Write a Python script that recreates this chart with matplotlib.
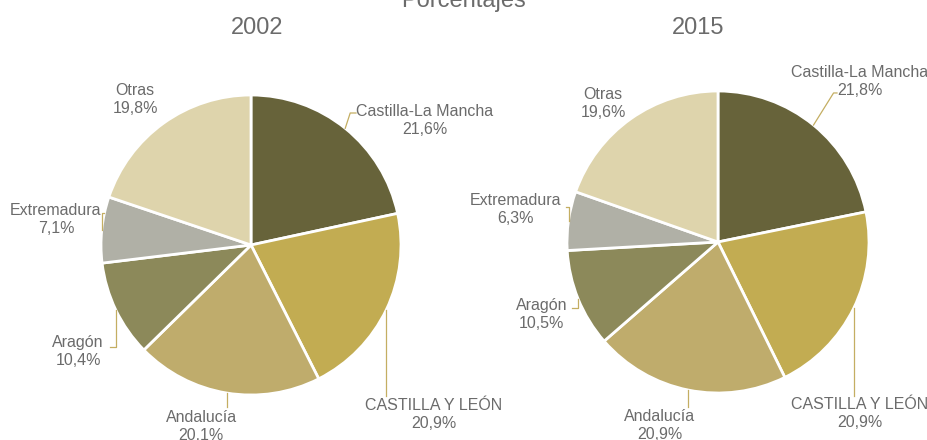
import numpy as np
import matplotlib
matplotlib.use("Agg")
import matplotlib.pyplot as plt

# Data
regions = ["Castilla-La Mancha", "CASTILLA Y LEÓN", "Andalucía", "Aragón", "Extremadura", "Otras"]
pct_2002 = [21.6, 20.9, 20.1, 10.4, 7.1, 19.8]
pct_2015 = [21.8, 20.9, 20.9, 10.5, 6.3, 19.6]
years = ["2002", "2015"]
colors = ["#67633A", "#C2AC52", "#BFAC6C", "#8C895A", "#B0B0A6", "#DED4AC"]

plt.rcParams['font.family'] = ['Liberation Sans', 'DejaVu Sans']
txt_color = "#6b6b6b"
leader_color = "#C4AE62"

W, H = 928, 440
fig = plt.figure(figsize=(W / 100, H / 100), dpi=100)

# label layout per pie: (x, y) of label centre in radius units,
# leader: (first segment angle, end y, end x or None) or None
layouts = [
    {"centre": (251, 245), "r": 150, "title_x": 257,
     "labels": [(1.16, 0.833), (1.22, -1.127), (-0.333, -1.21),
                (-1.153, -0.707), (-1.30, 0.173), (-0.773, 0.973)],
     "leaders": [(72, 0.88, 0.70), (-90, -1.007, None), (-90, -1.08, None),
                 (-90, -0.68, -0.94), (90, 0.213, -0.98), None]},
    {"centre": (718, 242), "r": 151, "title_x": 698,
     "labels": [(0.94, 1.066), (0.94, -1.139), (-0.384, -1.215),
                (-1.166, -0.483), (-1.338, 0.212), (-0.762, 0.914)],
     "leaders": [(58, 0.987, 0.788), (-90, -1.02, None), (-90, -1.09, None),
                 (-90, -0.437, -0.967), (90, 0.232, -1.007), None]},
]

for vals, year, lay in zip([pct_2002, pct_2015], years, layouts):
    cx, cy = lay["centre"]
    r = lay["r"]
    ax = fig.add_axes([(cx - r) / W, (H - (cy + r)) / H, 2 * r / W, 2 * r / H])
    wedges, _ = ax.pie(vals, colors=colors, startangle=90, counterclock=False,
                       radius=1, wedgeprops=dict(edgecolor="white", linewidth=2))
    ax.set_xlim(-1, 1)
    ax.set_ylim(-1, 1)
    ax.set_aspect("auto")
    ax.axis("off")

    for w, name, v, pos, ld in zip(wedges, regions, vals, lay["labels"], lay["leaders"]):
        label = f"{name}\n{v:.1f}%".replace(".", ",")
        ax.text(pos[0], pos[1], label, ha="center", va="center", fontsize=11.5,
                color=txt_color, clip_on=False, linespacing=1.25)
        if ld is None:
            continue
        mid = np.deg2rad((w.theta1 + w.theta2) / 2)
        px, py = np.cos(mid), np.sin(mid)
        a, end_y, end_x = ld
        a = np.deg2rad(a)
        t = (end_y - py) / np.sin(a)
        ex, ey = px + t * np.cos(a), end_y
        xs, ys = [px, ex], [py, ey]
        if end_x is not None:
            xs.append(end_x)
            ys.append(ey)
        ax.plot(xs, ys, color=leader_color, lw=0.9, clip_on=False)

    fig.text(lay["title_x"] / W, 1 - 28 / H, year, ha="center", va="center",
             fontsize=17, color=txt_color)

fig.text(464 / W, 1 - 7 / H, "Porcentajes", ha="center", va="baseline",
         fontsize=17, color=txt_color)

fig.savefig("out.png", dpi=100)
